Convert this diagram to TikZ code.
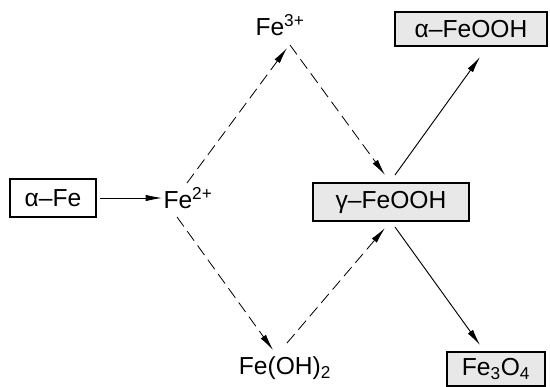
\documentclass[tikz,border=0pt]{standalone}
\usepackage{fontspec}
\setmainfont{Liberation Sans}
\usetikzlibrary{arrows.meta,positioning,calc}

\begin{document}
\begin{tikzpicture}[
    x=0.03cm, y=-0.03cm,
    box/.style={
        rectangle, draw=black, line width=1.5pt,
        fill=white, inner sep=0pt, font=\fontsize{21}{23}\selectfont
    },
    % product boxes: grey shaded
    prodbox/.style={
        box, fill=gray!18
    },
    ion/.style={
        font=\fontsize{21}{23}\selectfont, inner sep=1pt
    },
    % solid reaction path
    solidline/.style={
        -{Latex[length=14pt,width=5.5pt]}, line width=0.8pt, black
    },
    % dashed reaction path
    dashline/.style={
        -{Latex[length=14pt,width=5.5pt]}, line width=0.7pt, black,
        dash pattern=on 10pt off 5pt
    }
]
\useasboundingbox (0,0) rectangle (550,387);

% === Nodes ===
\node[box, minimum width=2.58cm, minimum height=1.15cm] (aFe) at (53,198) {α–Fe};
\node[ion] (Fe2) at (188,198) {Fe\textsuperscript{2+}};
\node[ion] (Fe3) at (280,25) {Fe\textsuperscript{3+}};
\node[prodbox, minimum width=4.7cm, minimum height=1.14cm] (gF) at (391,202) {γ–FeOOH};
\node[prodbox, minimum width=4.55cm, minimum height=1.0cm] (aF) at (471,29) {α–FeOOH};
\node[ion] (FeOH) at (285,368) {Fe(OH)\textsubscript{2}};
\node[prodbox, minimum width=2.95cm, minimum height=1.0cm] (Fe34) at (496,369) {Fe\textsubscript{3}O\textsubscript{4}};

% ============================================================
% === Oxidation of iron
% ============================================================
\draw[solidline, shorten <=3pt] (aFe.east) -- (Fe2.west |- aFe.east);

% ============================================================
% === Dashed paths via Fe3+ and Fe(OH)2
% ============================================================
\coordinate (Fe2_up) at (187,183);
\coordinate (Fe3_in) at (287,48);
\draw[dashline] (Fe2_up) -- (Fe3_in);

\coordinate (Fe3_out) at (290,45);
\coordinate (gF_in1) at (385,175);
\draw[dashline] (Fe3_out) -- (gF_in1);

\coordinate (Fe2_down) at (177,217);
\coordinate (FeOH_in) at (273,350);
\draw[dashline] (Fe2_down) -- (FeOH_in);

\coordinate (FeOH_out) at (287,343);
\coordinate (gF_in2) at (385,228);
\draw[dashline] (FeOH_out) -- (gF_in2);

% ============================================================
% === Transformations of gamma-FeOOH
% ============================================================
\coordinate (gF_up) at (395,175);
\coordinate (aF_in) at (480,57);
\draw[solidline] (gF_up) -- (aF_in);

\coordinate (gF_down) at (395,227);
\coordinate (Fe34_in) at (480,345);
\draw[solidline] (gF_down) -- (Fe34_in);

\end{tikzpicture}
\end{document}
